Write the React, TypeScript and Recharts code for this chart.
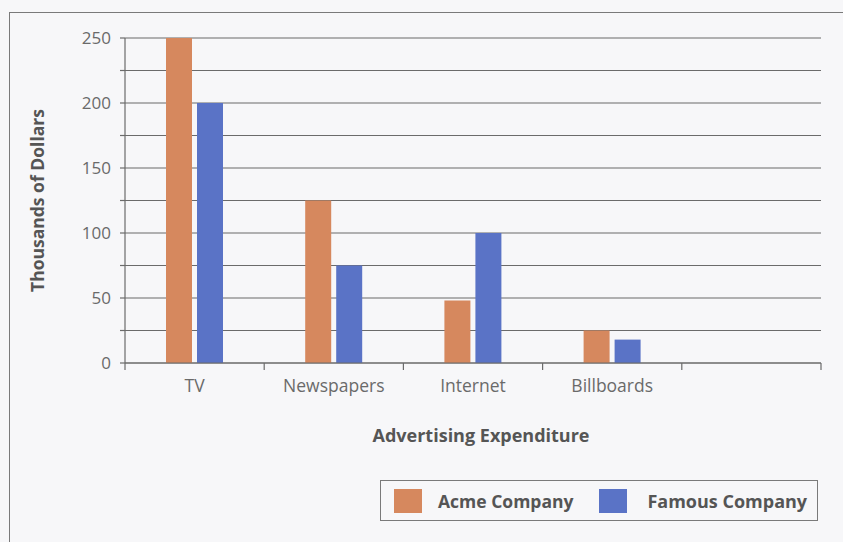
import React from 'react';
import { BarChart, Bar, XAxis, YAxis, CartesianGrid } from 'recharts';

const categories = ['TV', 'Newspapers', 'Internet', 'Billboards', ''];
const acmeValues = [250, 125, 48, 25, null];
const famousValues = [200, 75, 100, 18, null];
const yTicks = [0, 25, 50, 75, 100, 125, 150, 175, 200, 225, 250];
const seriesNames = ['Acme Company', 'Famous Company'];
const seriesColors = ['#D6885E', '#5A73C6'];

const data = categories.map((name, i) => ({
  name,
  acme: acmeValues[i],
  famous: famousValues[i],
}));

const FONT = '"Open Sans", "Noto Sans", sans-serif';
const LINE = '#6b6b6b';
const TICK_MARGIN = 17;

const CategoryTick = (props: any) => {
  const { x, y, payload, width, visibleTicksCount, index } = props;
  const band = width / visibleTicksCount;
  const axisY = y - TICK_MARGIN;
  const left = x - band / 2;
  const right = x + band / 2;
  return (
    <g>
      <line x1={left} x2={left} y1={axisY} y2={axisY + 7} stroke={LINE} strokeWidth={1.2} />
      {index === visibleTicksCount - 1 && (
        <line x1={right} x2={right} y1={axisY} y2={axisY + 7} stroke={LINE} strokeWidth={1.2} />
      )}
      <text
        x={x}
        y={y}
        dy="0.71em"
        textAnchor="middle"
        fill="#6a6a6a"
        fontSize={17.5}
        fontFamily={FONT}
      >
        {payload.value}
      </text>
    </g>
  );
};

export default function App() {
  return (
    <div
      style={{
        position: 'absolute',
        left: 0,
        top: 0,
        width: 843,
        height: 542,
        background: '#f7f7f9',
        overflow: 'hidden',
        fontFamily: FONT,
      }}
    >
      <div
        style={{
          position: 'absolute',
          left: 9,
          top: 12,
          width: 900,
          height: 600,
          borderLeft: '1.5px solid #7a7a7a',
          borderTop: '1.5px solid #7a7a7a',
        }}
      />
      <div style={{ position: 'absolute', left: 0, top: 0 }}>
        <BarChart
          width={843}
          height={542}
          data={data}
          margin={{ top: 38, right: 22, left: 0, bottom: 100 }}
          barSize={26}
          barGap={5}
        >
          <CartesianGrid
            xAxisId="cat"
            yAxisId="left"
            vertical={false}
            stroke={LINE}
            strokeWidth={1.2}
          />
          <XAxis
            xAxisId="cat"
            dataKey="name"
            interval={0}
            tickLine={false}
            axisLine={{ stroke: LINE, strokeWidth: 1.2 }}
            tickSize={0}
            tickMargin={TICK_MARGIN}
            height={79}
            tick={<CategoryTick />}
            label={{
              value: 'Advertising Expenditure',
              position: 'insideBottom',
              offset: 0,
              dx: 8,
              fill: '#555',
              fontSize: 18,
              fontWeight: 700,
              fontFamily: FONT,
            }}
          />
          <YAxis
            yAxisId="left"
            domain={[0, 250]}
            ticks={yTicks}
            interval={0}
            width={125}
            tickSize={5}
            tickMargin={9}
            tickFormatter={(v: number) => (v % 50 === 0 ? String(v) : '')}
            tick={{ fill: '#6a6a6a', fontSize: 17, fontFamily: FONT }}
            tickLine={{ stroke: LINE, strokeWidth: 1.2 }}
            axisLine={{ stroke: LINE, strokeWidth: 1.2 }}
            label={{
              value: 'Thousands of Dollars',
              angle: -90,
              position: 'insideLeft',
              offset: 38,
              fill: '#555',
              fontSize: 17.5,
              fontWeight: 700,
              fontFamily: FONT,
              style: { textAnchor: 'middle' },
            }}
          />
          <YAxis
            yAxisId="right"
            orientation="right"
            domain={[0, 250]}
            width={0}
            tick={false}
            tickLine={false}
            axisLine={{ stroke: LINE, strokeWidth: 1.2 }}
          />
          <Bar
            xAxisId="cat"
            yAxisId="left"
            dataKey="acme"
            name={seriesNames[0]}
            fill={seriesColors[0]}
            isAnimationActive={false}
          />
          <Bar
            xAxisId="cat"
            yAxisId="left"
            dataKey="famous"
            name={seriesNames[1]}
            fill={seriesColors[1]}
            isAnimationActive={false}
          />
        </BarChart>
      </div>
      <div
        style={{
          position: 'absolute',
          left: 380,
          top: 480,
          width: 438,
          height: 41,
          border: '1.5px solid #7a7a7a',
          boxSizing: 'border-box',
          display: 'flex',
          alignItems: 'center',
          fontFamily: FONT,
          fontWeight: 700,
          fontSize: 17.5,
          color: '#555',
        }}
      >
        {seriesNames.map((n, i) => (
          <div
            key={n}
            style={{
              display: 'flex',
              alignItems: 'center',
              marginLeft: i === 0 ? 13 : 26,
            }}
          >
            <div
              style={{
                width: 28,
                height: 24,
                background: seriesColors[i],
                marginRight: i === 0 ? 16 : 20,
              }}
            />
            <span style={{ fontSize: i === 0 ? 17.5 : 18 }}>{n}</span>
          </div>
        ))}
      </div>
    </div>
  );
}
